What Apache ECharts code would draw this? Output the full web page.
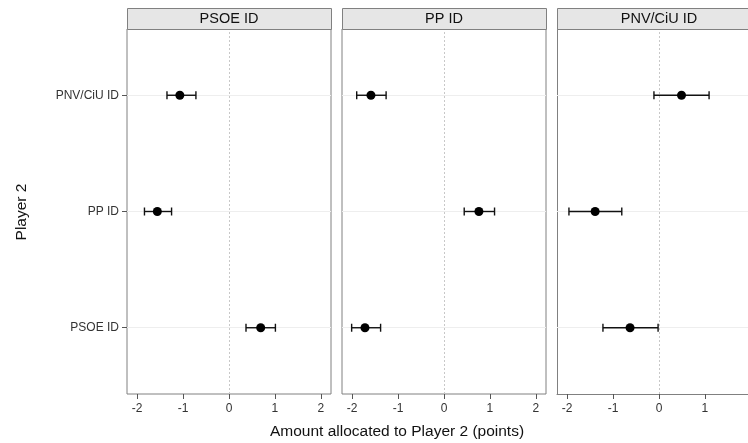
<!DOCTYPE html>
<html><head><meta charset="utf-8">
<script src="https://cdn.jsdelivr.net/npm/echarts@6/dist/echarts.min.js"></script>
<style>html,body{margin:0;padding:0;background:#fff}#c{width:748px;height:443px}</style>
</head><body><div id="c"></div>
<script>
// Player 2 categories (bottom to top)
const categories = ['PSOE ID', 'PP ID', 'PNV/CiU ID'];
const categoryPos = [1, 2, 3];
// Facet panels (Player 1 identity)
const panels = ['PSOE ID', 'PP ID', 'PNV/CiU ID'];
const xTicks = [-2, -1, 0, 1, 2];

// Estimates and confidence bounds per panel, in category order
const psoeEst  = [0.69, -1.56, -1.07];
const psoeLow  = [0.37, -1.84, -1.35];
const psoeHigh = [1.01, -1.25, -0.72];

const ppEst  = [-1.72, 0.76, -1.59];
const ppLow  = [-2.01, 0.44, -1.90];
const ppHigh = [-1.38, 1.10, -1.26];

const pnvEst  = [-0.63, -1.39, 0.49];
const pnvLow  = [-1.22, -1.96, -0.11];
const pnvHigh = [-0.02, -0.81, 1.09];

const panelData = [[psoeEst, psoeLow, psoeHigh], [ppEst, ppLow, ppHigh], [pnvEst, pnvLow, pnvHigh]];

const xTitle = 'Amount allocated to Player 2 (points)';
const yTitle = 'Player 2';

const FONT = '"Liberation Sans", Arial, sans-serif';
const gridLefts = [127, 342, 557];
const gridW = 204, gridTop = 29, gridH = 365;
const xMin = -2.22, xMax = 2.22;
const pxPerUnit = gridW / (xMax - xMin);

const grids = [], xAxes = [], yAxes = [], series = [], graphics = [];
panels.forEach((name, i) => {
  // last panel is cut by the right edge of the picture, as in the reference
  const w = Math.min(gridW, 748 - gridLefts[i]);
  const cut = w < gridW;
  const max = cut ? xMin + w / pxPerUnit : xMax;
  const ticks = xTicks.filter(t => t <= max);
  grids.push({left: gridLefts[i], top: gridTop, width: w, height: gridH,
    show: !cut, borderColor: '#808080', borderWidth: 1, backgroundColor: '#fff'});
  xAxes.push({type: 'value', gridIndex: i, min: xMin, max: max,
    axisLine: {show: cut, onZero: false, lineStyle: {color: '#808080', width: 1}},
    axisTick: {show: true, length: 5, customValues: ticks, lineStyle: {color: '#555'}},
    axisLabel: {customValues: ticks, color: '#333', fontSize: 12, fontFamily: FONT, margin: 9},
    splitLine: {show: false}});
  yAxes.push({type: 'value', gridIndex: i, min: 0.43, max: 3.57,
    axisLine: {show: cut, onZero: false, lineStyle: {color: '#808080', width: 1}},
    axisTick: {show: i === 0, length: 5, customValues: categoryPos, lineStyle: {color: '#555'}},
    axisLabel: {show: i === 0, customValues: categoryPos, color: '#333', fontSize: 12, fontFamily: FONT, margin: 8,
      formatter: v => categories[categoryPos.indexOf(Math.round(v))] || ''},
    splitLine: {show: false}});
  // reference lines (drawn beneath the error bars)
  series.push({
    type: 'line', xAxisIndex: i, yAxisIndex: i, data: [], z: 1, silent: true,
    markLine: {silent: true, symbol: 'none', label: {show: false}, z: 1,
      data: [
        ...categoryPos.map(v => ({yAxis: v, lineStyle: {color: '#eeeeee', type: 'solid', width: 1}})),
        {xAxis: 0, lineStyle: {color: '#c8c8c8', type: [2, 2], width: 1}}
      ]}
  });
  const [est, low, high] = panelData[i];
  const data = categoryPos.map((y, k) => [est[k], y, low[k], high[k]]);
  series.push({
    type: 'custom', xAxisIndex: i, yAxisIndex: i, data: data,
    encode: {x: [0, 2, 3], y: 1},
    clip: false, z: 5,
    renderItem: (params, api) => {
      const y = api.value(1);
      const p = api.coord([api.value(0), y]);
      const l = api.coord([api.value(2), y]);
      const h = api.coord([api.value(3), y]);
      const st = {stroke: '#111', lineWidth: 1.4, fill: null};
      return {type: 'group', children: [
        {type: 'line', shape: {x1: l[0], y1: l[1], x2: h[0], y2: h[1]}, style: st},
        {type: 'line', shape: {x1: l[0], y1: l[1] - 4, x2: l[0], y2: l[1] + 4}, style: st},
        {type: 'line', shape: {x1: h[0], y1: h[1] - 4, x2: h[0], y2: h[1] + 4}, style: st},
        {type: 'circle', shape: {cx: p[0], cy: p[1], r: 4.5}, style: {fill: '#000'}}
      ]};
    }
  });
  graphics.push({type: 'rect', left: gridLefts[i], top: 8,
    shape: {width: gridW, height: gridTop - 8},
    style: {fill: '#e6e6e6', stroke: '#808080', lineWidth: 1}, z: 10});
  graphics.push({type: 'text', x: gridLefts[i] + gridW / 2, y: 18.5,
    style: {text: name, fill: '#111', font: '14.5px ' + FONT, textAlign: 'center', textVerticalAlign: 'middle'}, z: 11});
});
graphics.push({type: 'text', x: 397, y: 432,
  style: {text: xTitle, fill: '#111', font: '15.5px ' + FONT, textAlign: 'center', textVerticalAlign: 'middle'}});
graphics.push({type: 'text', x: 22, y: 212, rotation: Math.PI / 2,
  style: {text: yTitle, fill: '#111', font: '15.5px ' + FONT, textAlign: 'center', textVerticalAlign: 'middle'}});

const chart = echarts.init(document.getElementById('c'), null, {renderer: 'canvas'});
chart.setOption({
  animation: false,
  backgroundColor: '#fff',
  grid: grids, xAxis: xAxes, yAxis: yAxes, series: series, graphic: graphics
});
</script></body></html>
